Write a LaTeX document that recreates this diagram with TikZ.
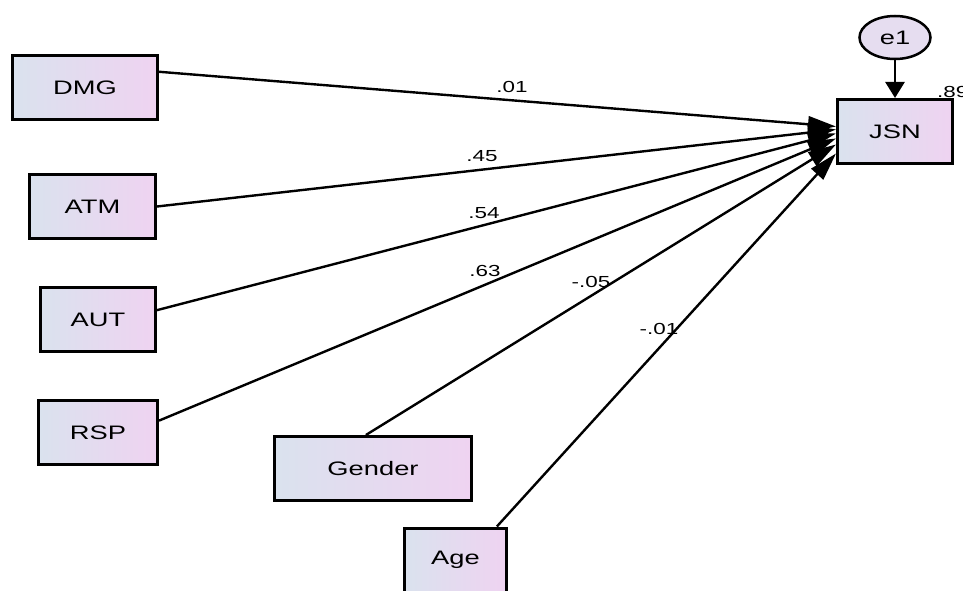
\documentclass[tikz,border=0pt]{standalone}
\usepackage{fontspec}
\setmainfont{Liberation Sans}
\newfontfamily\widefont[FakeStretch=1.4]{Liberation Sans}
\usetikzlibrary{arrows.meta,shapes.geometric}
\definecolor{boxL}{HTML}{DAE2EE}
\definecolor{boxR}{HTML}{EFD3F1}
\definecolor{errfill}{HTML}{E6DDF0}
\begin{document}
\begin{tikzpicture}[x=1pt,y=-1pt,
  varbox/.style={draw=black, line width=3pt, left color=boxL, right color=boxR,
    minimum height=64pt, inner sep=0pt, font=\widefont\fontsize{19.5}{22}\selectfont},
  errnode/.style={ellipse, draw=black, line width=2.5pt, fill=errfill,
    minimum width=71pt, minimum height=43pt, inner sep=0pt,
    font=\widefont\fontsize{19.5}{22}\selectfont},
  coef/.style={font=\widefont\fontsize{16}{18}\selectfont, inner sep=0pt},
  regpath/.style={line width=2.4pt, -{Triangle[length=28pt,width=16pt]}},
  errpath/.style={line width=2.6pt, -{Triangle[length=16pt,width=19pt]}}]
\useasboundingbox (0,0) rectangle (963,591);
\fill[white] (0,0) rectangle (963,591);

\node[varbox, minimum width=145pt] (dmg) at (85,87.5) {DMG};
\node[varbox, minimum width=126pt] (atm) at (92.5,206.5) {ATM};
\node[varbox, minimum width=115pt] (aut) at (98,319.5) {AUT};
\node[varbox, minimum width=119pt] (rsp) at (98,432.5) {RSP};
\node[varbox, minimum width=197pt] (gender) at (373,468.5) {Gender};
\node[varbox, minimum width=102pt] (age) at (455.5,560) {Age};
\node[varbox, minimum width=115pt] (jsn) at (895,131.5) {JSN};
\node[errnode] (e1) at (895,37.5) {e1};

\draw[errpath] (e1.south) -- (jsn.north);

\draw[regpath] (dmg.12) -- ([yshift=5pt]jsn.west);
\draw[regpath] (atm.east) -- ([yshift=2pt]jsn.west);
\draw[regpath] (aut.9) -- ([yshift=-2pt]jsn.west);
\draw[regpath] (rsp.11.6) -- ([yshift=-7pt]jsn.west);
\draw[regpath] (gender.102) -- ([yshift=-13pt]jsn.west);
\draw[regpath] (age.39) -- ([yshift=-22pt]jsn.west);

\node[coef] (c1) at (512,87) {.01};
\node[coef] (c2) at (482,156) {.45};
\node[coef] (c3) at (484,213) {.54};
\node[coef] (c4) at (485,271) {.63};
\node[coef] (c5) at (591,282) {-.05};
\node[coef] (c6) at (659,329) {-.01};
\node[coef, anchor=west] (r2) at (937,92) {.89};
\end{tikzpicture}
\end{document}
